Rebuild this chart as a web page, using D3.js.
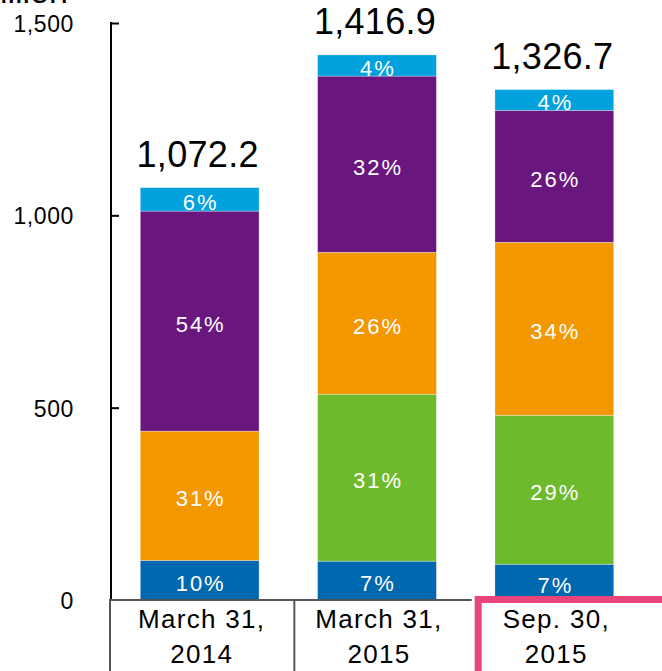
<!DOCTYPE html>
<html>
<head>
<meta charset="utf-8">
<script src="https://cdn.jsdelivr.net/npm/d3@7"></script>
<style>
  body { margin: 0; background: #fff; }
  svg { display: block; font-family: "Liberation Sans", Arial, sans-serif; }
</style>
</head>
<body>
<div id="chart"></div>
<script>
let w = 662;
let h = 671;

// data
const categories = ['March 31, 2014', 'March 31, 2015', 'Sep. 30, 2015'];
const categoryLines = [['March 31,', '2014'], ['March 31,', '2015'], ['Sep. 30,', '2015']];
const totals = [1072.2, 1416.9, 1326.7];
const totalLabels = ['1,072.2', '1,416.9', '1,326.7'];

const darkBlue = [103, 101, 93];
const green = [0, 434, 387];
const orange = [336, 369, 450];
const purple = [572, 458, 343];
const lightBlue = [61, 55, 54];

const darkBluePct = ['10%', '7%', '7%'];
const greenPct = ['', '31%', '29%'];
const orangePct = ['31%', '26%', '34%'];
const purplePct = ['54%', '32%', '26%'];
const lightBluePct = ['6%', '4%', '4%'];

const yTicks = [0, 500, 1000, 1500];

const keys = ['darkBlue', 'green', 'orange', 'purple', 'lightBlue'];
const colors = {darkBlue: '#0068AE', green: '#6DBA2D', orange: '#F39800', purple: '#69177F', lightBlue: '#00A1DC'};
const seriesVals = {darkBlue, green, orange, purple, lightBlue};
const seriesPct = {darkBlue: darkBluePct, green: greenPct, orange: orangePct, purple: purplePct, lightBlue: lightBluePct};

const table = categories.map((c, i) => {
  let row = {cat: c};
  keys.forEach(k => row[k] = seriesVals[k][i]);
  return row;
});

let svg = d3.select('#chart').append('svg').attr('width', w).attr('height', h);

let axisX = 111;
let y = d3.scaleLinear().domain([0, 1500]).range([600, 23]);
let x = d3.scaleBand().domain(categories).range([axisX, 643]).paddingInner(0.33).paddingOuter(0.165);

// unit title, cut off at the top edge as in the original
svg.append('text')
  .attr('x', 68).attr('y', 3)
  .attr('text-anchor', 'end')
  .style('font-size', '34px')
  .text('billion');

let stacked = d3.stack().keys(keys)(table);

let layer = svg.selectAll('g.layer')
  .data(stacked)
  .join('g')
  .attr('class', 'layer')
  .attr('fill', d => colors[d.key]);

layer.selectAll('rect')
  .data(d => d.map(v => ({v, key: d.key})))
  .join('rect')
  .attr('x', d => x(d.v.data.cat))
  .attr('width', x.bandwidth())
  .attr('y', d => y(d.v[1]))
  .attr('height', d => y(d.v[0]) - y(d.v[1]))
  .attr('stroke', '#fff')
  .attr('stroke-opacity', 0.5)
  .attr('stroke-width', d => (d.v[1] - d.v[0]) > 0 ? 0.6 : 0);

// percent labels
layer.selectAll('text')
  .data(d => d.map((v, i) => ({v, key: d.key, label: seriesPct[d.key][i]})))
  .join('text')
  .attr('x', d => x(d.v.data.cat) + x.bandwidth() / 2 + 1)
  .attr('y', d => (y(d.v[0]) + y(d.v[1])) / 2 + 3)
  .attr('text-anchor', 'middle')
  .attr('dominant-baseline', 'central')
  .attr('fill', '#fff')
  .style('font-size', '22px')
  .style('letter-spacing', '2px')
  .text(d => d.label);

// totals
svg.selectAll('text.total')
  .data(categories)
  .join('text')
  .attr('class', 'total')
  .attr('x', (d, i) => x(d) + x.bandwidth() / 2 - 2)
  .attr('y', (d, i) => y(totals[i]) - 21)
  .attr('text-anchor', 'middle')
  .style('font-size', '36px')
  .style('letter-spacing', '0.3px')
  .text((d, i) => totalLabels[i]);

// y axis
let yAxis = d3.axisRight(y).tickValues(yTicks.slice(1)).tickSize(8).tickFormat('');
let gy = svg.append('g').attr('transform', 'translate(' + axisX + ',0)').call(yAxis);
gy.select('.domain').remove();
gy.selectAll('line').attr('stroke', '#000').attr('stroke-width', 2);
svg.append('line')
  .attr('x1', axisX).attr('x2', axisX)
  .attr('y1', y(1500) - 1).attr('y2', y(0))
  .attr('stroke', '#000').attr('stroke-width', 2);

svg.selectAll('text.ylab')
  .data(yTicks)
  .join('text')
  .attr('class', 'ylab')
  .attr('x', 74)
  .attr('y', d => y(d) + 1)
  .attr('text-anchor', 'end')
  .attr('dominant-baseline', 'central')
  .style('font-size', '23px')
  .style('letter-spacing', '0.6px')
  .text(d => d3.format(',')(d));

// category table under the bars
let cellStart = categories.map((d, i) => i === 0 ? axisX - 1 : x(d) + x.bandwidth() / 2 - x.step() / 2 + 6);
svg.append('line')
  .attr('x1', axisX - 2).attr('x2', cellStart[2])
  .attr('y1', 600).attr('y2', 600)
  .attr('stroke', '#555').attr('stroke-width', 2);
svg.selectAll('line.cell')
  .data(cellStart.slice(0, 2))
  .join('line')
  .attr('class', 'cell')
  .attr('x1', d => d).attr('x2', d => d)
  .attr('y1', 600).attr('y2', h)
  .attr('stroke', '#555').attr('stroke-width', 2);

svg.append('rect')
  .attr('x', cellStart[2] + 6.5).attr('y', 599.5)
  .attr('width', 200).attr('height', 100)
  .attr('fill', 'none')
  .attr('stroke', '#E8457D').attr('stroke-width', 7);

let catText = svg.selectAll('text.cat')
  .data(categories)
  .join('text')
  .attr('class', 'cat')
  .attr('text-anchor', 'middle')
  .style('font-size', '26px')
  .style('letter-spacing', '1.3px');

catText.selectAll('tspan')
  .data((d, i) => categoryLines[i].map(t => ({t, cx: x(d) + x.bandwidth() / 2 + 2})))
  .join('tspan')
  .attr('x', d => d.cx)
  .attr('y', (d, i) => 628 + i * 35)
  .text(d => d.t);
</script>
</body>
</html>
